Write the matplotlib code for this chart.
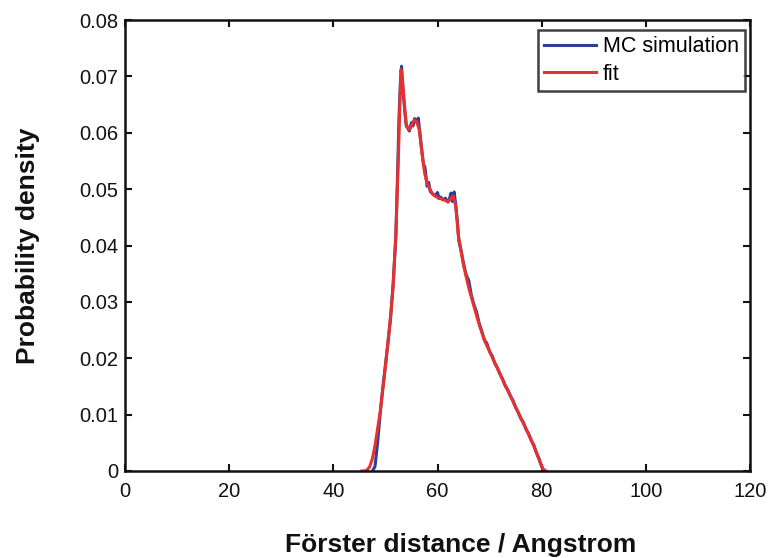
import matplotlib
matplotlib.use("Agg")
import matplotlib.pyplot as plt

plt.rcParams['font.family'] = ['Liberation Sans', 'DejaVu Sans']

# Fit curve (smooth)
fit_x = [45.5, 46, 46.5, 47, 47.5, 48, 49, 50, 51, 51.5, 52, 52.5, 52.8, 53.0, 53.3,
         53.7, 54, 54.5, 55, 55.5, 56, 56.5, 57, 57.5, 58, 59, 60, 61, 62, 62.5, 63,
         63.5, 64, 65, 66, 67, 68, 69, 70, 71, 72, 73, 74, 75, 76, 77, 78, 79, 79.7,
         80.3, 80.8]
fit_y = [0, 0, 0.0002, 0.0008, 0.0022, 0.0045, 0.0105, 0.0185, 0.0275, 0.033, 0.042,
         0.056, 0.066, 0.0712, 0.069, 0.0645, 0.0615, 0.0605, 0.0612, 0.0622, 0.062,
         0.0605, 0.0565, 0.053, 0.051, 0.0492, 0.0485, 0.0482, 0.0478, 0.0482, 0.0488,
         0.047, 0.0418, 0.0365, 0.0325, 0.0292, 0.026, 0.0232, 0.0212, 0.0192, 0.0172,
         0.0152, 0.0133, 0.0113, 0.0094, 0.0075, 0.0055, 0.0033, 0.0015, 0.0003, 0]

# Monte Carlo simulation (noisy)
mc_x = [47.5, 48.0, 48.5, 49.0, 49.5, 50.0, 50.5, 51.0, 51.5, 52.0, 52.3,
        52.6, 52.9, 53.1, 53.4, 53.7, 54.0, 54.3, 54.6, 55.0, 55.3, 55.6, 56.0, 56.3,
        56.6, 57.0, 57.3, 57.6, 58.0, 58.3, 58.6, 59.0, 59.5, 60.0, 60.3, 60.6, 61.0,
        61.5, 62.0, 62.3, 62.6, 62.9, 63.2, 63.5, 63.8, 64.1, 64.5, 65.0, 65.5, 66.0,
        66.5, 67.0, 67.5, 68.0, 68.5, 69.0, 69.5, 70.0, 70.5, 71.0, 71.5, 72.0, 72.5,
        73.0, 73.5, 74.0, 74.5, 75.0, 75.5, 76.0, 76.5, 77.0, 77.5, 78.0, 78.5, 79.0,
        79.5, 80.0, 80.5]
mc_y = [0, 0.0008, 0.005, 0.0102, 0.0148, 0.0188, 0.0228, 0.0272, 0.0335, 0.0415,
        0.0515, 0.0625, 0.0695, 0.0718, 0.0672, 0.064, 0.0612, 0.0608, 0.0603, 0.0618,
        0.0612, 0.0625, 0.0618, 0.0626, 0.0602, 0.0568, 0.0545, 0.0538, 0.0505, 0.0512,
        0.0496, 0.0492, 0.0488, 0.0494, 0.0483, 0.0486, 0.0481, 0.0484, 0.0477, 0.0483,
        0.0493, 0.0478, 0.0495, 0.0472, 0.0445, 0.0408, 0.0392, 0.0368, 0.0348, 0.0338,
        0.0312, 0.0295, 0.0282, 0.0262, 0.0248, 0.0233, 0.0226, 0.0212, 0.0204, 0.0191,
        0.0183, 0.0172, 0.0163, 0.0151, 0.0144, 0.0133, 0.0125, 0.0113, 0.0104, 0.0093,
        0.0086, 0.0074, 0.0066, 0.0054, 0.0046, 0.0032, 0.0022, 0.0008, 0.0]

x_ticks = [0, 20, 40, 60, 80, 100, 120]
y_ticks = [0, 0.01, 0.02, 0.03, 0.04, 0.05, 0.06, 0.07, 0.08]
y_tick_labels = ["0", "0.01", "0.02", "0.03", "0.04", "0.05", "0.06", "0.07", "0.08"]

fig = plt.figure(figsize=(7.72, 5.58), dpi=100)
ax = fig.add_axes([125 / 772, 1 - 471 / 558, 625 / 772, 451 / 558])

ax.plot(mc_x, mc_y, color='#2a3f9a', lw=2.2, label='MC simulation')
ax.plot(fit_x, fit_y, color='#e8302f', lw=2.2, label='fit')

ax.set_xlim(0, 120)
ax.set_ylim(0, 0.08)
ax.set_xticks(x_ticks)
ax.set_yticks(y_ticks)
ax.set_yticklabels(y_tick_labels)
ax.tick_params(direction='in', top=True, right=True, length=5, width=1.5,
               labelsize=14.5, colors='#111111')
ax.tick_params(axis='x', pad=8)
ax.tick_params(axis='y', pad=5)
for s in ax.spines.values():
    s.set_linewidth(1.8)
    s.set_color('#111111')

ax.set_xlabel('Förster distance / Angstrom', fontsize=19, fontweight='bold',
              color='#111111')
ax.xaxis.set_label_coords((461 - 125) / 625, -(545 - 471) / 451)
ax.xaxis.label.set_va('center')
ax.set_ylabel('Probability density', fontsize=19, fontweight='bold',
              labelpad=28, color='#111111')

leg = ax.legend(loc='upper right', bbox_to_anchor=((745 - 125) / 625, (471 - 30) / 451),
                fontsize=15.5, frameon=True, fancybox=False,
                edgecolor='#111111', handlelength=2.4, handletextpad=0.3,
                borderpad=0.3, labelspacing=0.3, borderaxespad=0.0)
leg.get_frame().set_linewidth(1.8)

fig.savefig('out.png', dpi=100)
